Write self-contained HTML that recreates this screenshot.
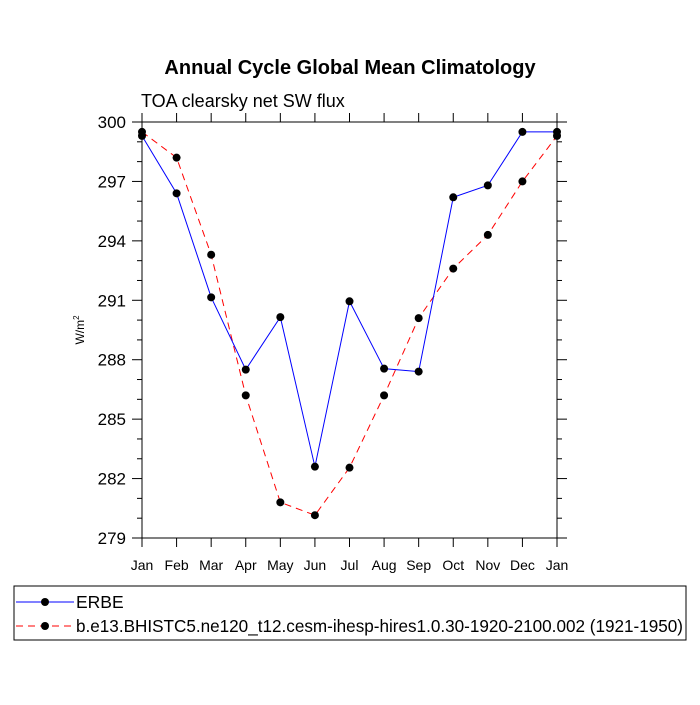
<!DOCTYPE html>
<html><head><meta charset="utf-8"><style>
body{margin:0;background:#fff;}
svg text{font-family:"Liberation Sans",sans-serif;}
</style></head><body>
<svg id="c" width="700" height="700" xmlns="http://www.w3.org/2000/svg">
<text x="350" y="74" text-anchor="middle" font-size="20" font-weight="bold">Annual Cycle Global Mean Climatology</text>
<text x="141" y="107" font-size="18">TOA clearsky net SW flux</text>
<text transform="translate(84,330) rotate(-90)" text-anchor="middle" font-size="12">W/m<tspan font-size="8" dy="-5">2</tspan></text>
<g id="axes"></g>
<g id="series"></g>
<rect x="14" y="586" width="672" height="54" fill="none" stroke="#000" stroke-width="1"/>
<g>
<line x1="16" y1="602" x2="74" y2="602" stroke="#00f" stroke-width="1"/>
<circle cx="45" cy="602" r="4" fill="#000"/>
<text x="76" y="608" font-size="17.5">ERBE</text>
</g>
<g>
<line x1="16" y1="626" x2="74" y2="626" stroke="#f00" stroke-width="1" stroke-dasharray="7,5"/>
<circle cx="45" cy="626" r="4" fill="#000"/>
<text x="76" y="632" font-size="17.5" textLength="607" lengthAdjust="spacingAndGlyphs">b.e13.BHISTC5.ne120_t12.cesm-ihesp-hires1.0.30-1920-2100.002 (1921-1950)</text>
</g>
</svg>
<script>
const months=["Jan","Feb","Mar","Apr","May","Jun","Jul","Aug","Sep","Oct","Nov","Dec","Jan"];
const erbe=[299.3,296.4,291.15,287.5,290.15,282.6,290.95,287.55,287.4,296.2,296.8,299.5,299.5];
const model=[299.5,298.2,293.3,286.2,280.8,280.15,282.55,286.2,290.1,292.6,294.3,297.0,299.3];
const yTicks=[279,282,285,288,291,294,297,300];
const NS="http://www.w3.org/2000/svg";
const X0=142,X1=557,Y0=122,Y1=538,YMIN=279,YMAX=300;
const xs=i=>X0+(X1-X0)*i/(months.length-1);
const ys=v=>Y1-(v-YMIN)/(YMAX-YMIN)*(Y1-Y0);
function mk(tag,attrs,parent){const e=document.createElementNS(NS,tag);for(const k in attrs)e.setAttribute(k,attrs[k]);parent.appendChild(e);return e;}
const ax=document.getElementById('axes');
const frame=mk('rect',{x:X0,y:Y0,width:X1-X0,height:Y1-Y0,fill:'none',stroke:'#000','stroke-width':1},ax);


for(let v=YMIN;v<=YMAX;v++){
  const major=(v-YMIN)%3===0;const L=major?10:5;const y=ys(v);
  mk('line',{x1:X0-L,y1:y,x2:X0,y2:y,stroke:'#000'},ax);
  mk('line',{x1:X1,y1:y,x2:X1+L,y2:y,stroke:'#000'},ax);
}
yTicks.forEach(v=>{
  const t=mk('text',{x:X0-16,y:ys(v)+6,'text-anchor':'end','font-size':17},ax);t.textContent=v;
  
  
});
months.forEach((m,i)=>{
  const x=xs(i);
  mk('line',{x1:x,y1:Y1,x2:x,y2:Y1+9,stroke:'#000'},ax);
  mk('line',{x1:x,y1:Y0-9,x2:x,y2:Y0,stroke:'#000'},ax);
  const t=mk('text',{x:x,y:Y1+32,'text-anchor':'middle','font-size':14},ax);t.textContent=m;
  
  
});
const sg=document.getElementById('series');
function series(vals,color,dash,name){
  const g=mk('g',{},sg);
  
  
  const pts=vals.map((v,i)=>xs(i)+','+ys(v)).join(' ');
  const a={points:pts,fill:'none',stroke:color,'stroke-width':1};if(dash)a['stroke-dasharray']=dash;
  mk('polyline',a,g);
  vals.forEach((v,i)=>{const c=mk('circle',{cx:xs(i),cy:ys(v),r:4,fill:'#000'},g);
    
    });
}
series(model,'#f00','7,5','series-model');
series(erbe,'#00f',null,'series-erbe');
</script>
</body></html>
